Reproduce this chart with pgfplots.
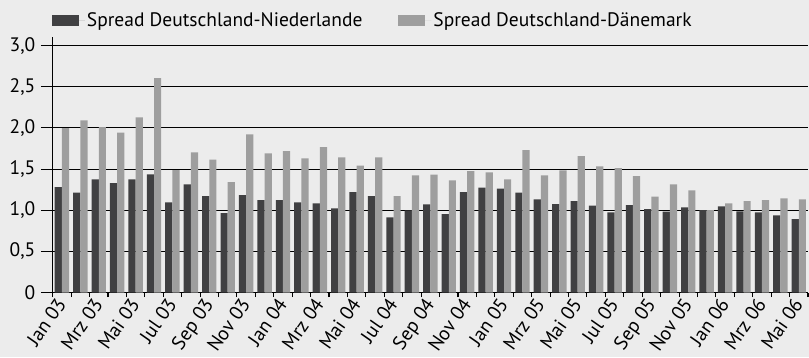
\documentclass[border=0pt]{standalone}
\usepackage{fontspec}
\setmainfont{PT Sans}
\usepackage{pgfplots}
\pgfplotsset{compat=1.18}
\definecolor{bg}{HTML}{ECECEC}
\definecolor{darkbar}{HTML}{404042}
\definecolor{lightbar}{HTML}{9E9E9E}
\newcommand{\lblfont}{\fontsize{19.5}{22}\selectfont}
\begin{document}
\lblfont
\begin{tikzpicture}
\path[use as bounding box, fill=bg] (0,0) rectangle (809pt,357pt);
\begin{axis}[
  at={(52.7pt,64.3pt)}, anchor=south west,
  scale only axis, width=755.3pt, height=255.4pt,
  xmin=-0.5, xmax=40.5, ymin=0, ymax=3.1,
  axis x line*=bottom, axis y line*=left,
  axis line style={black, line width=1.1pt},
  ytick={0,0.5,1,1.5,2,2.5,3},
  yticklabels={0,{0,5},{1,0},{1,5},{2,0},{2,5},{3,0}},
  ymajorgrids, major grid style={black, line width=1.1pt},
  tick style={black, line width=1.1pt},
  tick align=outside, major tick length=11.7pt, minor tick length=4.5pt,
  xtick={0,2,...,40},
  xticklabels={Jan 03,Mrz 03,Mai 03,Jul 03,Sep 03,Nov 03,Jan 04,Mrz 04,Mai 04,Jul 04,Sep 04,Nov 04,Jan 05,Mrz 05,Mai 05,Jul 05,Sep 05,Nov 05,Jan 06,Mrz 06,Mai 06},
  major x tick style={draw=none},
  minor xtick={-0.5,0.5,...,40.5},
  xticklabel style={rotate=55, anchor=north east, xshift=5pt, yshift=12pt, inner sep=2pt, font=\lblfont},
  yticklabel style={font=\lblfont, xshift=1pt},
  ybar=0pt, bar width=7.2pt,
  legend columns=2,
  legend style={draw=none, fill=none, at={(0,1)}, anchor=south west, inner sep=0pt,
    xshift=-1pt, yshift=6pt,
    font=\lblfont,
    /tikz/every even column/.append style={column sep=34pt}},
  legend image code/.code={\fill[#1] (0pt,-5.5pt) rectangle (27pt,5.5pt); \path (0pt,0pt) -- (33pt,0pt);},
]
\addplot[fill=darkbar, draw=none] coordinates {
(0,1.282)(1,1.214)(2,1.375)(3,1.331)(4,1.375)(5,1.436)(6,1.096)(7,1.315)(8,1.173)(9,0.967)(10,1.185)(11,1.125)
(12,1.125)(13,1.096)(14,1.084)(15,1.023)(16,1.222)(17,1.173)(18,0.914)(19,0.999)(20,1.072)(21,0.955)(22,1.222)(23,1.274)
(24,1.262)(25,1.214)(26,1.133)(27,1.076)(28,1.112)(29,1.056)(30,0.975)(31,1.064)(32,1.015)(33,0.983)(34,1.036)(35,1.003)
(36,1.048)(37,0.987)(38,0.975)(39,0.939)(40,0.894)};
\addplot[fill=lightbar, draw=none] coordinates {
(0,1.998)(1,2.091)(2,2.011)(3,1.942)(4,2.128)(5,2.605)(6,1.489)(7,1.703)(8,1.614)(9,1.343)(10,1.921)(11,1.691)
(12,1.719)(13,1.630)(14,1.768)(15,1.642)(16,1.541)(17,1.642)(18,1.173)(19,1.424)(20,1.432)(21,1.363)(22,1.477)(23,1.460)
(24,1.375)(25,1.731)(26,1.424)(27,1.485)(28,1.659)(29,1.533)(30,1.513)(31,1.416)(32,1.165)(33,1.315)(34,1.242)(35,1.003)
(36,1.084)(37,1.112)(38,1.125)(39,1.145)(40,1.133)};
\legend{Spread Deutschland-Niederlande, Spread Deutschland-Dänemark}
\end{axis}
\end{tikzpicture}
\end{document}
